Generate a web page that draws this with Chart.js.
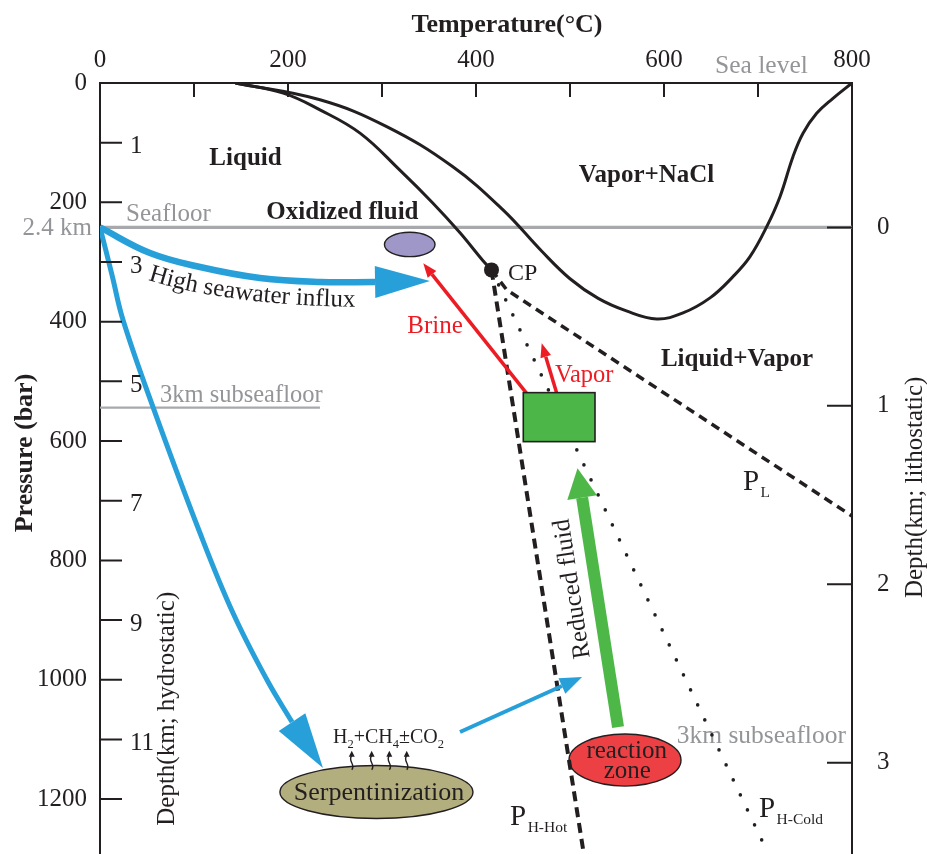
<!DOCTYPE html>
<html>
<head>
<meta charset="utf-8">
<title>Seawater phase relations and hydrothermal circulation</title>
<script src="https://cdn.jsdelivr.net/npm/chart.js@4.4.1/dist/chart.umd.min.js"></script>
<style>
  html, body { margin: 0; padding: 0; background: #fff; overflow: hidden; }
  canvas { display: block; }
</style>
</head>
<body>
<canvas id="chart" width="927" height="854"></canvas>
<script>
// ---------- axes ----------
const T_MIN = 0, T_MAX = 800;            // temperature, °C
const P_MIN = 0, P_MAX = 1292;           // pressure, bar
const T_TICKS = [0, 200, 400, 600, 800];
const T_MINOR = [100, 200, 300, 400, 500, 600, 700];
const P_TICKS = [0, 200, 400, 600, 800, 1000, 1200];
const P_MINOR = [100, 200, 300, 400, 500, 600, 700, 800, 900, 1000, 1100, 1200];
const HYDRO_KM = [1, 3, 5, 7, 9, 11];    // hydrostatic depth, 100 bar per km
const LITHO_KM = [0, 1, 2, 3];           // lithostatic depth below seafloor
const SEAFLOOR_P = 242;
const LITHO_BAR_PER_KM = 299;

// ---------- two-phase boundary of seawater ----------
const CP = [416.5, 313.2];
const liquidLimbT = [144, 195, 234, 276.6, 319, 354, 383, 407, 416.5];
const liquidLimbP = [0, 17, 45, 84, 146, 201, 251, 297, 313.2];
const haliteLimbT = [144, 234, 305, 375, 429, 470, 500, 530, 560, 592.2, 620.2, 649, 673.4, 691.5, 709.3, 723.4, 737.2, 747.9, 762.4, 779.8, 800];
const haliteLimbP = [0, 28, 73, 140, 213, 282, 328, 361, 382, 395.3, 385.3, 360.1, 324.5, 291, 240.7, 190.5, 123.5, 84.3, 50.8, 25.6, 0];

// ---------- pressure gradients from the critical point ----------
const hotHydroT = [416.5, 514.7];
const hotHydroP = [313.2, 1292];
const coldHydroT = [416.5, 711];
const coldHydroP = [313.2, 1292];
const lithoT = [416.5, 432.7, 800];
const lithoP = [313.2, 346.7, 725.6];

// ---------- reference levels ----------
const seafloorT = [0, 800];
const seafloorP = [SEAFLOOR_P, SEAFLOOR_P];
const subseafloorT = [0, 234];
const subseafloorP = [544, 544];

// ---------- fluid pathways (shaft points, then arrow tip) ----------
const influxT = [0, 53.2, 106.4, 170.2, 234, 292.6];
const influxP = [242, 284.9, 308.4, 326.8, 333.5, 333.5];
const influxTip = [351, 332];
const rechargeT = [0, 12.8, 24.5, 56.4, 106.4, 141.5, 177.7, 204.3];
const rechargeP = [242, 321.8, 397.2, 543, 754.1, 888.2, 1000.5, 1070.9];
const rechargeTip = [237.2, 1148];
const ventingT = [383, 491.4];
const ventingP = [1087.6, 1010.4];
const ventingTip = [512.8, 995.5];
const reducedT = [551.1, 512.9];
const reducedP = [1079.3, 694.8];
const reducedTip = [508, 645.7];
const brineT = [453.9, 353.2];
const brineP = [520, 320.6];
const brineTip = [343.9, 302.1];
const vaporT = [485.9, 474.2];
const vaporP = [520, 458.6];
const vaporTip = [469.9, 436.2];

// ---------- regions ----------
const phaseSepT = [450.3, 526.6];           // box of phase separation
const phaseSepP = [518.9, 601];
const oxidizedPool = [329.5, 270.6, 26.9, 20.4];      // centre T, centre P, radius T, radius P
const serpentinite = [294.1, 1188.2, 102.7, 44.4];
const reactionZone = [558.5, 1134.6, 59.6, 43.6];
const gasBubbleT = [267.8, 289, 307.8, 326.3];
const gasBubbleP = [1150.8, 1119];

// ---------- styling ----------
const INK = '#231f20';
const RED = '#ed1c24';
const BLUE = '#27a0da';
const GREEN = '#4db848';
const GREY_TEXT = '#939598';
const GREY_LINE = '#a7a9ac';
const SERIF = "'Liberation Serif', 'Times New Roman', serif";

Chart.defaults.font.family = SERIF;
Chart.defaults.color = INK;

const zip = (xs, ys) => xs.map((x, i) => ({ x, y: ys[i] }));

function lineSet(label, xs, ys, style) {
  return Object.assign({
    label,
    data: zip(xs, ys),
    showLine: true,
    pointRadius: 0,
    pointHoverRadius: 0,
    fill: false,
    tension: 0,
    borderColor: INK,
    borderWidth: 3,
    borderJoinStyle: 'round',
    order: 1
  }, style);
}

const datasets = [
  { label: 'Critical point', data: [{ x: CP[0], y: CP[1] }], showLine: false,
    pointRadius: 7.5, pointBackgroundColor: INK, pointBorderWidth: 0, order: 0 },
  lineSet('Brine', brineT, brineP, { borderColor: RED, borderWidth: 3.5, arrowTip: brineTip, headWidth: 11, order: 0 }),
  lineSet('Vapor', vaporT, vaporP, { borderColor: RED, borderWidth: 3.5, arrowTip: vaporTip, headWidth: 11, order: 0 }),
  lineSet('Reduced fluid', reducedT, reducedP, { borderColor: GREEN, borderWidth: 12, arrowTip: reducedTip, headWidth: 30, order: 0 }),
  lineSet('Venting', ventingT, ventingP, { borderColor: BLUE, borderWidth: 4, arrowTip: ventingTip, headWidth: 17, order: 0 }),
  lineSet('Recharge', rechargeT, rechargeP, { borderColor: BLUE, borderWidth: 5, tension: 0.4, arrowTip: rechargeTip, headWidth: 32, order: 0 }),
  lineSet('High seawater influx', influxT, influxP, { borderColor: BLUE, borderWidth: 6.5, tension: 0.4, arrowTip: influxTip, headWidth: 32, order: 0 }),
  lineSet('Liquid limb', liquidLimbT, liquidLimbP, { tension: 0.4 }),
  lineSet('Halite limb', haliteLimbT, haliteLimbP, { tension: 0.4 }),
  lineSet('P H-Hot', hotHydroT, hotHydroP, { borderWidth: 4, borderDash: [10, 6] }),
  lineSet('P L', lithoT, lithoP, { borderWidth: 3.5, borderDash: [9, 6] }),
  lineSet('P H-Cold', coldHydroT, coldHydroP, { borderWidth: 3.6, borderDash: [0, 16.6], borderCapStyle: 'round' }),
  lineSet('Seafloor', seafloorT, seafloorP, { borderColor: GREY_LINE, borderWidth: 3.3, order: 2 }),
  lineSet('3 km subseafloor', subseafloorT, subseafloorP, { borderColor: GREY_LINE, borderWidth: 2.3, order: 2 })
];

// ---------- text annotations (anchor in T, P) ----------
const annotations = [
  { text: 'Liquid', t: 154.8, p: 138.2, bold: true, align: 'center' },
  { text: 'Oxidized fluid', t: 257.9, p: 227.8, bold: true, align: 'center' },
  { text: 'Vapor+NaCl', t: 581.4, p: 165.3, bold: true, align: 'center' },
  { text: 'Liquid+Vapor', t: 677.7, p: 474.9, bold: true, align: 'center' },
  { text: 'CP', t: 434, p: 330, size: 24 },
  { text: 'Brine', t: 356.4, p: 419.3, color: RED, align: 'center' },
  { text: 'Vapor', t: 484, p: 500.3, color: RED, size: 24.5 },
  { text: 'Seafloor', t: 27.7, p: 230.7, color: GREY_TEXT },
  { text: '2.4 km', t: -8.5, p: 254.6, color: GREY_TEXT, align: 'right' },
  { text: 'Sea level', t: 654.3, p: -16.2, color: GREY_TEXT, size: 25.5 },
  { text: '3km subseafloor', t: 63.8, p: 534.8, color: GREY_TEXT, size: 24.5 },
  { text: '3km subseafloor', t: 613.5, p: 1106, color: GREY_TEXT, size: 25.5 },
  { text: 'Serpentinization', t: 296.8, p: 1201, align: 'center', size: 26 },
  { text: 'reaction', t: 560.3, p: 1131, align: 'center' },
  { text: 'zone', t: 561, p: 1164.7, align: 'center' },
  { text: 'Reduced fluid', t: 509.6, p: 845.9, align: 'center', rotate: -98.8 },
  { text: 'Depth(km; hydrostatic)', t: 78.7, p: 1048.6, align: 'center', rotate: -90 }
];
const gradientLabels = [
  { main: 'P', sub: 'L', t: 684, p: 681.7 },
  { main: 'P', sub: 'H-Hot', t: 436.2, p: 1242.9 },
  { main: 'P', sub: 'H-Cold', t: 701, p: 1229.5 }
];
const gasFormula = { parts: [['H', 0], ['2', 1], ['+CH', 0], ['4', 1], ['\u00B1CO', 0], ['2', 1]], t: 247.9, p: 1106 };
const influxPath = { text: 'High seawater influx', t: [51.1, 138.3, 283], p: [330, 373.5, 375.2] };

function font(size, bold) {
  return (bold ? 'bold ' : '') + size + 'px ' + SERIF;
}

// ellipses drawn underneath the lines
const regionPlugin = {
  id: 'regions',
  beforeDatasetsDraw(chart) {
    const { ctx, scales: { x, y } } = chart;
    const ellipse = (e, fillColor) => {
      const cx = x.getPixelForValue(e[0]), cy = y.getPixelForValue(e[1]);
      const rx = Math.abs(x.getPixelForValue(e[0] + e[2]) - cx);
      const ry = Math.abs(y.getPixelForValue(e[1] + e[3]) - cy);
      ctx.beginPath();
      ctx.ellipse(cx, cy, rx, ry, 0, 0, Math.PI * 2);
      ctx.fillStyle = fillColor;
      ctx.fill();
      ctx.lineWidth = 1.4;
      ctx.strokeStyle = INK;
      ctx.stroke();
    };
    ctx.save();
    ellipse(oxidizedPool, '#9e97c8');
    ellipse(serpentinite, '#b3ae7d');
    ellipse(reactionZone, '#ec4044');

    // gas released from the serpentinite
    ctx.strokeStyle = INK;
    ctx.fillStyle = INK;
    ctx.lineWidth = 1.4;
    const yb = y.getPixelForValue(gasBubbleP[0]);
    const yt = y.getPixelForValue(gasBubbleP[1]);
    gasBubbleT.forEach(t => {
      const px = x.getPixelForValue(t);
      const h = yb - yt - 5;
      ctx.beginPath();
      ctx.moveTo(px, yb);
      ctx.bezierCurveTo(px + 4.5, yb - h * 0.35, px - 4.5, yb - h * 0.65, px, yb - h);
      ctx.stroke();
      ctx.beginPath();
      ctx.moveTo(px, yt);
      ctx.lineTo(px - 3, yt + 6);
      ctx.lineTo(px + 3, yt + 6);
      ctx.closePath();
      ctx.fill();
    });

    // text labels
    annotations.forEach(a => {
      ctx.save();
      ctx.font = font(a.size || 25, a.bold);
      ctx.fillStyle = a.color || INK;
      ctx.textAlign = a.align || 'left';
      ctx.textBaseline = 'alphabetic';
      ctx.translate(x.getPixelForValue(a.t), y.getPixelForValue(a.p));
      if (a.rotate) ctx.rotate(a.rotate * Math.PI / 180);
      ctx.fillText(a.text, 0, 0);
      ctx.restore();
    });

    gradientLabels.forEach(g => {
      const px = x.getPixelForValue(g.t), py = y.getPixelForValue(g.p);
      ctx.font = font(29);
      ctx.fillStyle = INK;
      ctx.textAlign = 'left';
      ctx.fillText(g.main, px, py);
      const w = ctx.measureText(g.main).width;
      ctx.font = font(15.5);
      ctx.fillText(g.sub, px + w + 1.5, py + 7);
    });

    // H2 + CH4 ± CO2
    let gx = x.getPixelForValue(gasFormula.t);
    const gy = y.getPixelForValue(gasFormula.p);
    gasFormula.parts.forEach(([s, isSub]) => {
      ctx.font = font(isSub ? 12.5 : 20);
      ctx.fillText(s, gx, gy + (isSub ? 5 : 0));
      gx += ctx.measureText(s).width;
    });

    // label bent along the influx arrow
    const c = influxPath.t.map((t, i) => [x.getPixelForValue(t), y.getPixelForValue(influxPath.p[i])]);
    const N = 300, pts = [], cum = [0];
    for (let i = 0; i <= N; i++) {
      const s = i / N, u = 1 - s;
      pts.push([u * u * c[0][0] + 2 * u * s * c[1][0] + s * s * c[2][0],
                u * u * c[0][1] + 2 * u * s * c[1][1] + s * s * c[2][1]]);
      if (i > 0) cum.push(cum[i - 1] + Math.hypot(pts[i][0] - pts[i - 1][0], pts[i][1] - pts[i - 1][1]));
    }
    const pointAt = d => {
      let i = 1;
      while (i < N && cum[i] < d) i++;
      const f = (d - cum[i - 1]) / (cum[i] - cum[i - 1]);
      const a = pts[i - 1], b = pts[i];
      return { px: a[0] + (b[0] - a[0]) * f, py: a[1] + (b[1] - a[1]) * f, ang: Math.atan2(b[1] - a[1], b[0] - a[0]) };
    };
    ctx.font = font(25);
    ctx.textAlign = 'center';
    let dist = 0;
    for (const ch of influxPath.text) {
      const w = ctx.measureText(ch).width;
      const q = pointAt(dist + w / 2);
      ctx.save();
      ctx.translate(q.px, q.py);
      ctx.rotate(q.ang);
      ctx.fillText(ch, 0, 0);
      ctx.restore();
      dist += w;
    }
    ctx.restore();
  },
  afterDatasetsDraw(chart) {
    const { ctx, scales: { x, y } } = chart;
    const x0 = x.getPixelForValue(phaseSepT[0]), x1 = x.getPixelForValue(phaseSepT[1]);
    const y0 = y.getPixelForValue(phaseSepP[0]), y1 = y.getPixelForValue(phaseSepP[1]);
    ctx.save();
    ctx.fillStyle = '#4cb748';
    ctx.fillRect(x0, y0, x1 - x0, y1 - y0);
    ctx.lineWidth = 1.6;
    ctx.strokeStyle = INK;
    ctx.strokeRect(x0, y0, x1 - x0, y1 - y0);
    ctx.restore();
  }
};

// filled heads at the end of every pathway
const arrowHeadPlugin = {
  id: 'arrowHeads',
  afterDatasetsDraw(chart) {
    const { ctx, scales: { x, y } } = chart;
    ctx.save();
    chart.data.datasets.forEach(ds => {
      if (!ds.arrowTip) return;
      const last = ds.data[ds.data.length - 1];
      const bx = x.getPixelForValue(last.x), by = y.getPixelForValue(last.y);
      const tx = x.getPixelForValue(ds.arrowTip[0]), ty = y.getPixelForValue(ds.arrowTip[1]);
      const len = Math.hypot(tx - bx, ty - by);
      const nx = -(ty - by) / len, ny = (tx - bx) / len, hw = ds.headWidth / 2;
      ctx.fillStyle = ds.borderColor;
      ctx.beginPath();
      ctx.moveTo(tx, ty);
      ctx.lineTo(bx + nx * hw, by + ny * hw);
      ctx.lineTo(bx - nx * hw, by - ny * hw);
      ctx.closePath();
      ctx.fill();
    });
    ctx.restore();
  }
};

// inward tick marks, hydrostatic depth labels and axis titles
const axisDecor = {
  id: 'axisDecor',
  afterDraw(chart) {
    const { ctx, chartArea: a, scales: { x, y, yR } } = chart;
    ctx.save();
    ctx.strokeStyle = INK;
    ctx.lineWidth = 2;
    ctx.beginPath();
    T_MINOR.forEach(t => { const px = x.getPixelForValue(t); ctx.moveTo(px, a.top); ctx.lineTo(px, a.top + 14); });
    P_MINOR.forEach(p => { const py = y.getPixelForValue(p); ctx.moveTo(a.left, py); ctx.lineTo(a.left + 22, py); });
    LITHO_KM.forEach(d => { const py = yR.getPixelForValue(d); ctx.moveTo(a.right, py); ctx.lineTo(a.right - 25, py); });
    ctx.stroke();

    ctx.fillStyle = INK;
    ctx.font = font(25);
    ctx.textAlign = 'left';
    ctx.textBaseline = 'alphabetic';
    HYDRO_KM.forEach(km => ctx.fillText(String(km), a.left + 30, y.getPixelForValue(km * 100) + 10.5));

    // axis titles
    ctx.font = font(26, true);
    ctx.textAlign = 'center';
    ctx.fillText('Temperature(\u00B0C)', x.getPixelForValue(433), 32);

    ctx.save();
    ctx.translate(32, y.getPixelForValue(620));
    ctx.rotate(-Math.PI / 2);
    ctx.fillText('Pressure (bar)', 0, 0);
    ctx.restore();

    ctx.font = font(25);
    ctx.save();
    ctx.translate(a.right + 70, y.getPixelForValue(677.6));
    ctx.rotate(-Math.PI / 2);
    ctx.fillText('Depth(km; lithostatic)', 0, 0);
    ctx.restore();
    ctx.restore();
  }
};

const tickFont = { family: SERIF, size: 25 };
const border = { display: true, color: INK, width: 2 };
const noGrid = { display: false, drawTicks: false };
const noPad = s => { s.paddingTop = 0; s.paddingBottom = 0; s.paddingLeft = 0; s.paddingRight = 0; };

new Chart(document.getElementById('chart'), {
  type: 'scatter',
  data: { datasets },
  options: {
    responsive: false,
    animation: false,
    devicePixelRatio: 1,
    events: [],
    layout: { padding: 0, autoPadding: false },
    plugins: { legend: { display: false }, tooltip: { enabled: false } },
    scales: {
      x: {
        type: 'linear', position: 'top', min: T_MIN, max: T_MAX,
        grid: noGrid, border,
        ticks: { font: tickFont, color: INK, padding: 8, maxRotation: 0, autoSkip: false, callback: v => String(v) },
        afterBuildTicks: s => { s.ticks = T_TICKS.map(v => ({ value: v })); },
        afterFit: s => { s.height = 83; noPad(s); }
      },
      y: {
        type: 'linear', position: 'left', reverse: true, min: P_MIN, max: P_MAX,
        grid: noGrid, border,
        ticks: { font: tickFont, color: INK, padding: 13, autoSkip: false, callback: v => String(v) },
        afterBuildTicks: s => { s.ticks = P_TICKS.map(v => ({ value: v })); },
        afterFit: s => { s.width = 100; noPad(s); }
      },
      yR: {
        type: 'linear', position: 'right', reverse: true,
        min: (P_MIN - SEAFLOOR_P) / LITHO_BAR_PER_KM,
        max: (P_MAX - SEAFLOOR_P) / LITHO_BAR_PER_KM,
        grid: noGrid, border,
        ticks: { font: tickFont, color: INK, padding: 25, autoSkip: false, callback: v => String(v) },
        afterBuildTicks: s => { s.ticks = LITHO_KM.map(v => ({ value: v })); },
        afterFit: s => { s.width = 75; noPad(s); }
      }
    }
  },
  plugins: [regionPlugin, arrowHeadPlugin, axisDecor]
});
</script>
</body>
</html>
